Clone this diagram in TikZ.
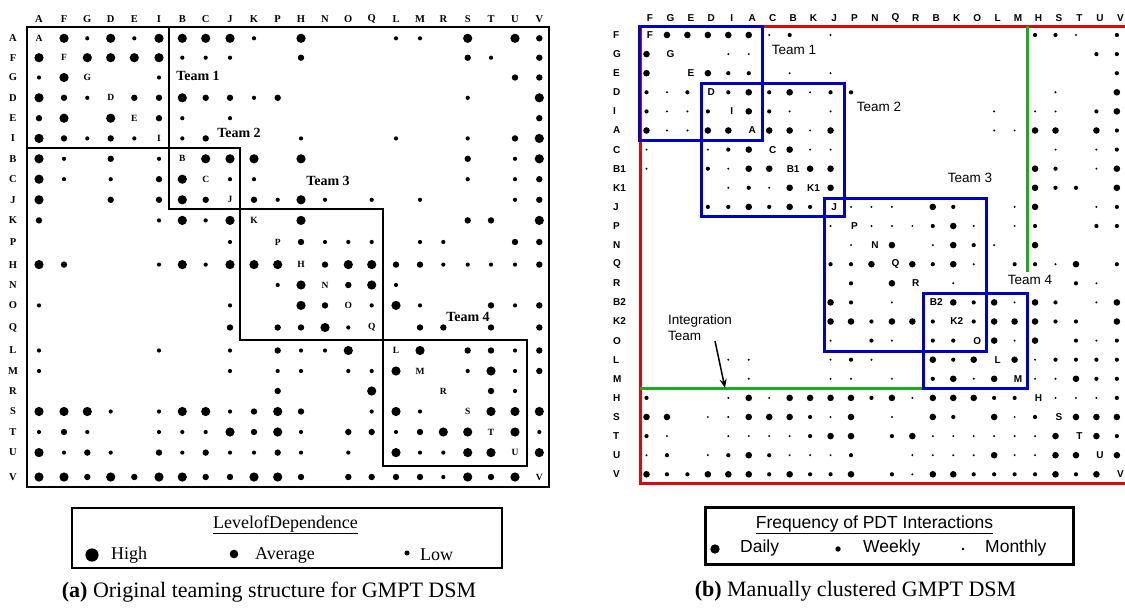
\documentclass[tikz,border=0pt]{standalone}
\usepackage{fontspec}
\setmainfont{Liberation Serif}
\newfontfamily\hvf{Liberation Sans}
\usetikzlibrary{arrows.meta}
\definecolor{dsmred}{RGB}{221,8,8}
\definecolor{dsmblue}{RGB}{0,0,204}
\definecolor{dsmgreen}{RGB}{30,170,30}
\def\lx{{39,64,87.3,110.7,134.3,159,182.3,205.7,230,254,277.7,301,325,348.3,371.7,396,420,443.3,467.7,491,515,539.3}}
\def\ly{{38.3,57.7,77.5,97.8,118.2,138.4,158.8,179.2,199.8,220.4,242,264.6,285,305.4,327.5,350.5,371,391,411.5,432,452.6,477}}
\newcommand\ldotdraw[3]{\pgfmathsetmacro\dsmx{\lx[#1]}\pgfmathsetmacro\dsmy{\ly[#2]}\fill (\dsmx,\dsmy) circle (#3);}
\newcommand\ldotL[2]{\ldotdraw{#1}{#2}{4.6pt}}
\newcommand\ldotM[2]{\ldotdraw{#1}{#2}{3.2pt}}
\newcommand\ldotS[2]{\ldotdraw{#1}{#2}{2.1pt}}
\newcommand\ldoto[2]{}
\newcommand\ldotx[2]{}
\newcommand\rdotdraw[3]{\fill ({646.5+20.45*#1},{35+19.1*#2}) circle (#3);}
\newcommand\rdotL[2]{\rdotdraw{#1}{#2}{3.3pt}}
\newcommand\rdotM[2]{\rdotdraw{#1}{#2}{2.1pt}}
\newcommand\rdotS[2]{\rdotdraw{#1}{#2}{1.1pt}}
\newcommand\rdoto[2]{}
\newcommand\rdotx[2]{}
\begin{document}
\begin{tikzpicture}[x=1pt,y=-1pt,
  lhd/.style={font=\fontsize{10.5}{12}\selectfont\bfseries, inner sep=0pt},
  ldg/.style={font=\fontsize{9.5}{11}\selectfont\bfseries, inner sep=0pt},
  lteam/.style={font=\fontsize{14}{16}\selectfont\bfseries, inner sep=2pt},
  lframe/.style={draw, line width=2pt},
  rhd/.style={font=\hvf\fontsize{10}{12}\selectfont\bfseries, inner sep=0pt},
  rteam/.style={font=\hvf\fontsize{13.5}{16}\selectfont, inner sep=0pt},
  bluebox/.style={draw=dsmblue, line width=3pt},
  redline/.style={draw=dsmred, line width=3pt},
  greenline/.style={draw=dsmgreen, line width=3pt},
  legtxt/.style={font=\fontsize{18}{20}\selectfont, inner sep=0pt, anchor=west},
  rlegtxt/.style={font=\hvf\fontsize{17.5}{20}\selectfont, inner sep=0pt, anchor=west},
  captxt/.style={font=\fontsize{22}{26}\selectfont, inner sep=0pt}]
\useasboundingbox (0,0) rectangle (1125,608);
% ================= LEFT MATRIX =================
\draw[lframe] (27,27) rectangle (549,487);
\draw[lframe] (27,27) rectangle (169,148);
\draw[lframe] (169,148) rectangle (240,209);
\draw[lframe] (240,209) rectangle (383,340);
\draw[lframe] (383,340) rectangle (527,466);
\foreach \rw [count=\rr from 0] in {
{x,L,S,L,S,L,L,L,L,S,o,L,o,o,o,S,S,o,L,o,L,M},
{L,x,L,L,L,L,S,S,S,o,o,M,o,o,o,o,o,o,M,S,o,M},
{S,L,x,o,o,S,o,o,o,o,o,o,o,o,o,o,o,o,o,o,M,M},
{L,M,S,x,M,M,L,M,M,S,M,o,o,o,o,o,o,o,S,o,o,L},
{M,L,o,L,x,M,S,o,S,o,o,o,o,o,o,o,o,o,o,o,o,M},
{L,M,S,M,S,x,S,M,o,o,o,S,o,o,o,S,o,o,S,o,M,L},
{L,S,o,M,o,S,x,L,L,L,o,L,o,o,o,o,o,o,M,o,S,L},
{L,S,o,S,o,M,L,x,S,S,o,o,o,o,o,o,o,o,S,o,S,M},
{L,o,o,M,o,M,L,M,x,M,S,L,S,o,S,o,S,o,o,o,S,M},
{M,o,o,o,o,S,L,S,L,x,o,L,o,o,o,o,o,o,M,M,o,L},
{o,o,o,o,o,o,o,o,S,o,x,M,S,S,S,o,S,S,o,o,M,M},
{L,M,o,o,o,S,L,S,L,L,L,x,M,L,L,M,M,S,S,S,S,M},
{o,o,o,o,o,o,o,o,o,o,S,L,x,M,L,S,o,o,o,o,o,o},
{S,o,o,o,o,o,o,o,S,o,o,L,M,x,S,L,S,o,o,M,S,M},
{o,o,o,o,o,o,o,o,M,o,M,M,L,S,x,o,M,M,o,M,o,M},
{S,o,o,o,o,S,o,o,S,o,M,S,S,L,o,x,L,o,M,M,S,M},
{S,o,o,o,o,o,o,o,S,o,S,S,o,S,S,L,x,o,S,L,S,M},
{o,o,o,o,o,o,o,o,o,o,M,o,o,o,L,o,o,x,o,M,S,o},
{L,L,L,S,o,S,L,L,S,M,L,M,o,o,S,L,S,o,x,L,L,L},
{S,M,S,o,o,S,S,S,L,M,L,S,o,M,M,S,M,L,L,x,L,S},
{L,S,M,S,o,M,S,M,S,S,M,S,o,S,o,L,S,S,L,L,x,L},
{L,L,M,L,M,L,L,M,M,L,L,M,o,M,M,M,M,S,L,M,L,x}} {
  \foreach \v [count=\cc from 0] in \rw {\csname ldot\v\endcsname{\cc}{\rr}}
}
\foreach \l [count=\i from 0] in {A,F,G,D,E,I,B,C,J,K,P,H,N,O,Q,L,M,R,S,T,U,V} {
  \pgfmathsetmacro\dsmx{\lx[\i]}
  \pgfmathsetmacro\dsmy{\ly[\i]}
  \node[lhd] (lch\i) at (\dsmx,19) {\l};
  \node[lhd] (lrh\i) at (13,\dsmy) {\l};
  \node[ldg] (ldg\i) at (\dsmx,\dsmy) {\l};
}
\node[lteam] (lt1) at (198,76) {Team 1};
\node[lteam] (lt2) at (239,133) {Team 2};
\node[lteam] (lt3) at (328,181) {Team 3};
\node[lteam, fill=white] (lt4) at (468,317) {Team 4};
% left legend
\draw[lframe] (72,508) rectangle (502,568);
\node[font=\fontsize{18}{20}\selectfont, inner sep=0pt] (lgt) at (285.5,525) {\underline{LevelofDependence}};
\fill (92,555) circle (6.6pt);
\node[legtxt] (lgh) at (111,555) {High};
\fill (234,554) circle (4.3pt);
\node[legtxt] (lga) at (255,555) {Average};
\fill (407,553) circle (2.5pt);
\node[legtxt] (lgl) at (420,555) {Low};
\node[captxt] (capa) at (269,592) {\textbf{(a)} Original teaming structure for GMPT DSM};
% ================= RIGHT MATRIX =================
\draw[redline] (1126,26) -- (640,26) -- (640,483) -- (1126,483);
\coordinate (g1) at (1027,26);
\coordinate (g2) at (1027,272);
\draw[greenline] (g1) -- (g2);
\coordinate (g3) at (640,388);
\coordinate (g4) at (923,388);
\draw[greenline] (g3) -- (g4);
\draw[bluebox] (639,26) rectangle (762,140);
\draw[bluebox] (701,83) rectangle (844,216);
\draw[bluebox] (824,198) rectangle (986,351);
\draw[bluebox] (923,293) rectangle (1027,388);
\foreach \rw [count=\rr from 0] in {
{x,L,L,L,L,L,S,M,o,S,o,o,o,o,o,o,o,o,o,M,M,S,o,M},
{L,x,o,o,S,S,o,o,o,o,o,o,o,o,o,o,o,o,o,o,o,o,M,M},
{L,o,x,L,M,M,o,S,o,S,o,o,o,o,o,o,o,o,o,o,o,o,o,M},
{M,S,M,x,M,L,M,L,S,M,M,o,o,o,o,o,o,o,o,o,S,o,o,L},
{M,S,S,M,x,L,M,S,o,S,o,o,o,o,o,o,o,S,o,S,S,o,M,L},
{L,S,S,L,L,x,L,L,S,L,o,o,o,o,o,o,o,S,S,L,L,o,L,M},
{S,o,o,S,M,L,x,L,S,S,o,o,o,o,o,o,o,o,o,o,S,o,S,M},
{S,o,o,M,S,L,L,x,L,L,o,o,o,o,o,o,o,o,o,L,M,o,S,L},
{o,o,o,o,S,M,S,L,x,L,o,o,o,o,o,o,o,o,o,L,M,M,o,L},
{o,o,o,M,M,L,M,L,M,x,S,S,S,o,L,M,o,o,S,L,o,o,S,M},
{o,o,o,o,o,o,o,o,o,S,x,S,S,S,M,L,S,o,S,M,o,o,M,M},
{o,o,o,o,o,o,o,o,o,o,S,x,L,o,S,L,M,S,o,L,o,o,o,o},
{o,o,o,o,o,o,o,o,o,M,M,L,x,L,M,L,S,o,M,M,S,L,o,M},
{o,o,o,o,o,o,o,o,o,o,M,o,L,x,o,S,o,o,o,o,o,M,S,o},
{o,o,o,o,o,o,o,o,o,L,M,o,S,o,x,L,M,L,S,L,M,o,S,L},
{o,o,o,o,o,o,o,o,o,L,L,M,L,L,M,x,M,L,L,L,M,M,o,L},
{o,o,o,o,o,o,o,o,o,S,o,M,S,o,M,M,x,L,S,L,o,M,S,M},
{o,o,o,o,S,S,o,o,o,S,M,S,o,o,L,M,L,x,L,S,M,M,M,M},
{o,o,o,o,o,S,o,o,o,S,S,o,S,o,M,L,S,L,x,S,S,L,M,M},
{M,o,o,o,S,L,S,L,L,L,L,M,L,S,L,L,L,M,M,x,S,S,S,M},
{L,L,o,S,S,L,L,L,M,S,L,o,S,o,L,M,o,L,S,M,x,L,L,L},
{M,S,o,o,S,S,S,S,M,L,L,o,M,L,S,S,S,S,S,S,L,x,L,M},
{S,M,o,S,M,L,M,S,S,S,M,o,o,S,S,S,S,L,S,S,L,L,x,L},
{L,M,M,L,L,L,M,L,M,M,L,o,M,S,L,L,M,M,M,M,L,M,L,x}} {
  \foreach \v [count=\cc from 0] in \rw {\csname rdot\v\endcsname{\cc}{\rr}}
}
\foreach \l [count=\i from 0] in {F,G,E,D,I,A,C,B,K,J,P,N,Q,R,B,K,O,L,M,H,S,T,U,V} {
  \node[rhd] (rch\i) at ({650+20.45*\i},17.7) {\l};
}
\foreach \l [count=\i from 0] in {F,G,E,D,I,A,C,B1,K1,J,P,N,Q,R,B2,K2,O,L,M,H,S,T,U,V} {
  \node[rhd, anchor=west] (rrh\i) at (613,{35+19.1*\i}) {\l};
  \node[rhd] (rdg\i) at ({650+20.45*\i},{35+19.1*\i}) {\l};
}
\node[rteam] (rt1) at (794,50) {Team 1};
\node[rteam] (rt2) at (879,107) {Team 2};
\node[rteam] (rt3) at (970,178) {Team 3};
\node[rteam] (rt4) at (1030,280) {Team 4};
\node[rteam, anchor=west, align=left] (itx) at (668,328) {Integration\\Team};
\coordinate (ia) at (715,341);
\coordinate (ib) at (725,388);
\draw[line width=1.5pt, -{Stealth[length=9pt,width=7pt]}] (ia) -- (ib);
% right legend
\draw[line width=3pt] (705,507) rectangle (1073,564);
\node[font=\hvf\fontsize{17.5}{20}\selectfont, inner sep=0pt] (rgt) at (874.5,525) {\underline{Frequency of PDT Interactions}};
\fill (715,549) circle (4.7pt);
\node[rlegtxt] (rgd) at (740,548) {Daily};
\fill (838,549) circle (2.7pt);
\node[rlegtxt] (rgw) at (863,548) {Weekly};
\fill (963,549) circle (1.3pt);
\node[rlegtxt] (rgm) at (985,548) {Monthly};
\node[captxt] (capb) at (855.5,591) {\textbf{(b)} Manually clustered GMPT DSM};
\end{tikzpicture}
\end{document}
